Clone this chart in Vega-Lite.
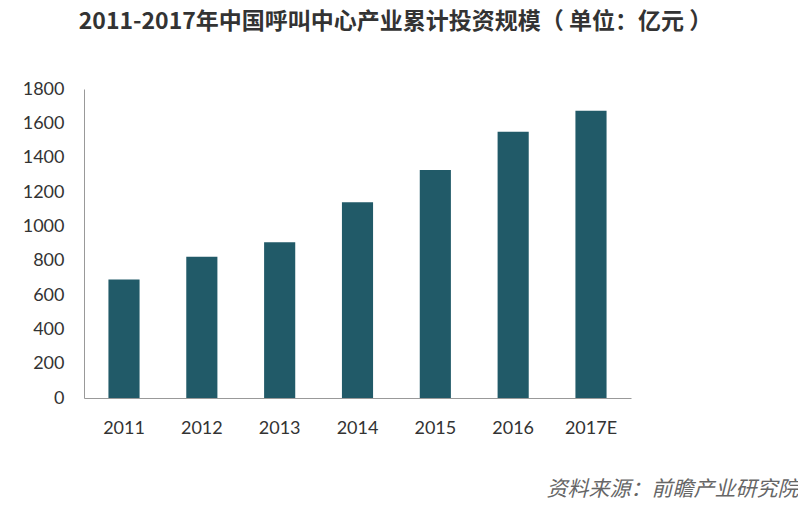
{
  "$schema": "https://vega.github.io/schema/vega-lite/v6.json",
  "width": 547,
  "height": 309,
  "padding": {"left": 22, "top": 11, "right": 1, "bottom": 5},
  "background": "white",
  "title": {
    "text": "2011-2017年中国呼叫中心产业累计投资规模（ 单位：亿元 ）",
    "font": "Noto Sans CJK SC",
    "fontSize": 23,
    "fontWeight": "bold",
    "color": "#333333",
    "anchor": "middle",
    "dx": 38,
    "offset": 46
  },
  "data": {
    "values": [
      {"year": "2011", "value": 691},
      {"year": "2012", "value": 823},
      {"year": "2013", "value": 908},
      {"year": "2014", "value": 1140},
      {"year": "2015", "value": 1328},
      {"year": "2016", "value": 1551},
      {"year": "2017E", "value": 1673}
    ]
  },
  "mark": {"type": "bar", "color": "#215a68"},
  "encoding": {
    "x": {
      "field": "year",
      "type": "nominal",
      "sort": null,
      "scale": {"paddingInner": 0.6, "paddingOuter": 0.314},
      "axis": {
        "labelAngle": 0,
        "labelPadding": 21,
        "labelFontSize": 18,
        "labelFont": "Lato",
        "labelColor": "#333333",
        "ticks": false,
        "domainColor": "#999999",
        "title": "资料来源：前瞻产业研究院",
        "titleFont": "Noto Sans CJK SC",
        "titleFontSize": 21,
        "titleFontWeight": "normal",
        "titleFontStyle": "italic",
        "titleColor": "#666666",
        "titleAlign": "right",
        "titleX": 714,
        "titleY": 80
      }
    },
    "y": {
      "field": "value",
      "type": "quantitative",
      "scale": {"domain": [0, 1800]},
      "axis": {
        "values": [0, 200, 400, 600, 800, 1000, 1200, 1400, 1600, 1800],
        "format": "d",
        "labelPadding": 20,
        "labelFontSize": 18,
        "labelFont": "Lato",
        "labelColor": "#333333",
        "ticks": false,
        "grid": false,
        "domainColor": "#999999",
        "title": null
      }
    }
  },
  "config": {"view": {"stroke": null}}
}
